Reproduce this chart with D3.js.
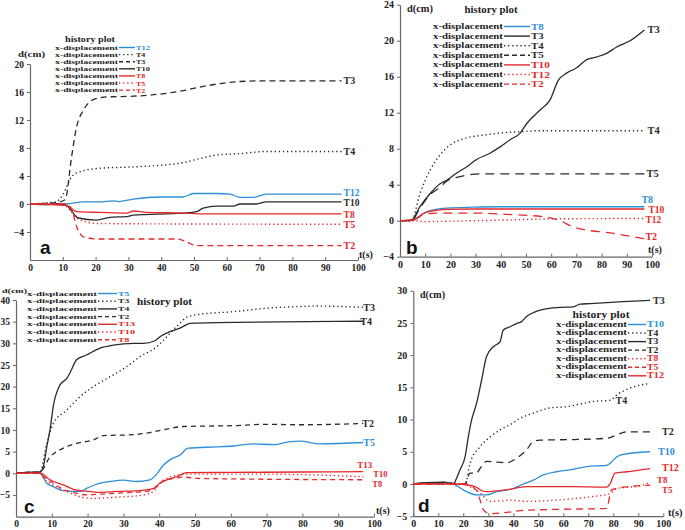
<!DOCTYPE html>
<html><head><meta charset="utf-8">
<script src="https://cdn.jsdelivr.net/npm/d3@7"></script>
<style>
body{margin:0;background:#fff}
text{font-family:"Liberation Serif","Times New Roman",serif;font-weight:bold}
</style>
</head><body><svg id="chart" width="685" height="530"></svg>
<script>
// ---------------- DATA (t in s, d in cm) ----------------
const xTicks = [0,10,20,30,40,50,60,70,80,90,100];

// panel a
const aYTicks = [-4,0,4,8,12,16,20];
const a_T12 = [[0,0],[11,0],[16.3,0.3],[21,0.3],[25.4,0.45],[27,0.35],[31.5,0.7],[39.6,1.0],[46.7,1.0],[49.8,1.5],[56.9,1.5],[61,1.4],[64,0.95],[68,0.95],[72,1.4],[95,1.4]];
const a_T4  = [[0,0],[3,0.1],[6,0.2],[8,0.3],[10.2,1.5],[12.7,3.9],[15.2,4.6],[21.3,5.1],[31.5,5.3],[41.7,5.6],[46.7,5.9],[51.8,6.5],[56.9,7.0],[64,7.2],[72,7.5],[95,7.5]];
const a_T3  = [[0,0],[5,0.1],[8,0.2],[10.7,0.6],[12.7,6.8],[14.2,11],[16.3,13.4],[19.3,14.9],[23.4,15.3],[31.5,15.4],[39.6,15.7],[46.7,16.2],[51.8,16.7],[57.9,17.2],[64,17.5],[72,17.6],[95,17.6]];
const a_T10 = [[0,0],[5,-0.1],[8,0],[11,-0.2],[14.7,-2.0],[20.3,-2.3],[24.4,-1.9],[29.5,-1.8],[31.5,-1.6],[46.7,-1.3],[50.8,-1.1],[52.8,-0.6],[57,-0.3],[62,-0.3],[64,0],[69,0],[72,0.3],[95,0.3]];
const a_T8  = [[0,0],[11,-0.2],[14.2,-1.1],[21.3,-1.2],[29.5,-1.3],[31.5,-1.0],[35.6,-1.2],[46.7,-1.3],[51.8,-1.4],[95,-1.4]];
const a_T5  = [[0,0],[10,0],[12.2,-0.9],[15.2,-2.3],[21.3,-2.8],[95,-2.9]];
const a_T2  = [[0,0],[11,0],[12.7,-0.7],[14.2,-3.2],[16.3,-4.7],[21.3,-5.0],[44.7,-5.0],[47.7,-5.4],[50.8,-5.95],[95,-5.95]];

// panel b
const bYTicks = [-4,0,4,8,12,16,20,24];
const b_T8  = [[0,0],[5,0.05],[7,0.3],[9.3,0.8],[13.2,1.2],[18.5,1.4],[29,1.5],[40,1.55],[97,1.55]];
const b_T3  = [[0,0],[4.6,0.1],[7.9,1.56],[11.9,3.0],[15.9,4.1],[18.5,4.5],[22.5,5.3],[26.5,6.0],[30.4,6.8],[35.7,7.5],[39.7,8.2],[43.7,9.0],[47.6,9.7],[50.3,10.8],[55.6,12.3],[59.5,13.4],[62.8,15.6],[66.1,16.4],[70.1,17.0],[74.1,17.9],[78.1,18.2],[82,18.6],[86,19.3],[91.3,20],[97,21.2]];
const b_T4  = [[0,0],[4.6,0],[7.9,3.0],[11.9,5.6],[15.9,7.3],[19.8,8.4],[25.1,9.1],[33,9.5],[42.3,9.8],[48.9,9.9],[55,10],[97,10]];
const b_T5  = [[0,0],[4.6,0],[7.9,1.4],[11.9,2.9],[15.9,3.7],[18.5,4.4],[23.8,4.9],[31.7,5.2],[97,5.2]];
const b_T10 = [[0,0],[5,0.05],[7,0.35],[9.3,0.8],[13.2,1.1],[18.5,1.25],[29,1.3],[97,1.3]];
const b_T12 = [[0,0],[5,0],[10,-0.1],[20,-0.05],[30,0],[45,0.1],[60,0.2],[97,0.25]];
const b_T2  = [[0,0],[5,0.05],[9.3,0.7],[14.6,0.85],[29,0.85],[42.3,0.7],[58.2,0.4],[63.5,0],[68.8,-0.7],[75.4,-1.1],[82,-1.3],[88.6,-1.6],[97,-2.0]];

// panel c
const cYTicks = [-5,0,5,10,15,20,25,30,35,40];
const c_T5  = [[0,0],[3,0.2],[6.7,0],[8.6,-2.3],[10.4,-3.1],[13.2,-4.0],[17.9,-4.2],[19.7,-3.5],[23.5,-2.3],[26.3,-1.9],[30,-1.6],[33.7,-1.9],[37.4,-1.5],[39.3,-0.2],[41.2,1.9],[43,3.1],[45.8,4.2],[48.1,5.8],[56,6.1],[60.7,6.3],[66.3,6.8],[71.9,6.6],[76.6,7.3],[79.3,7.4],[84.9,6.8],[97,7.1]];
const c_T3  = [[0,0],[3,0.2],[6.7,0.3],[8.6,6.9],[10.4,11.5],[14.2,14.6],[17.9,17.7],[21.6,20],[26.3,22.3],[30.9,24.6],[34.6,26.9],[39.3,29.2],[42.1,31.5],[44.9,33.9],[48.1,36.2],[51.4,36.7],[60.7,37.3],[70,38.1],[79.3,38.5],[83.9,38.6],[97,38.3]];
const c_T4  = [[0,0],[3,0.2],[6.7,0.3],[7.6,1.5],[8.6,6.1],[9.5,10],[10.4,15.4],[12.3,20.4],[14.2,21.9],[15.5,23.9],[16.9,26.2],[19.7,27.3],[23.5,28.9],[27.2,29.6],[32.8,30],[35.6,30],[38.8,30.6],[40.2,31.5],[43,32.7],[45.8,33.5],[48.6,34.6],[56,34.8],[97,35.1]];
const c_T2  = [[0,0],[3,0.2],[6.7,0.3],[9.5,3.8],[12.3,5.4],[16.9,6.9],[21.6,7.7],[24.4,8.7],[32.8,8.9],[37.4,9.4],[42.1,10.2],[46.8,10.8],[60.7,11.0],[70,11.3],[79.3,11.2],[97,11.5]];
const c_T13 = [[0,0],[6.7,0.1],[9.5,-1.5],[13.2,-2.7],[16.9,-3.9],[20.6,-4.2],[23.5,-4.4],[28.1,-4.2],[34.6,-4.0],[38.4,-3.5],[40.2,-2.3],[42.1,-1.5],[44.9,-0.8],[47.7,0.15],[60,0.2],[80,0.3],[97,0.4]];
const c_T10 = [[0,0],[6.7,0],[7.6,-1.0],[11.2,-3.1],[14.2,-4.2],[17.9,-5.4],[21.6,-5.8],[26.3,-5.6],[30.9,-5.4],[35.6,-5.0],[38.4,-4.2],[40.2,-2.3],[42.1,-1.2],[44.9,-0.5],[47.7,-0.2],[70,-0.2],[97,-0.8]];
const c_T8  = [[0,0],[6.7,0],[7.6,-0.7],[10.4,-2.3],[13.2,-3.7],[16.9,-4.6],[19.7,-5.0],[23.5,-4.8],[28.1,-4.6],[32.8,-4.4],[36.5,-4.2],[39.3,-3.1],[41.2,-1.7],[43.9,-1.2],[46.8,-0.9],[51.4,-1.2],[97,-1.5]];

// panel d
const dYTicks = [-5,0,5,10,15,20,25,30];
const d_T10 = [[0,0],[5,0.2],[10,0],[12,0.3],[16,0],[21.3,-1.2],[25.3,-1.7],[29.3,-1.7],[33.3,-1.2],[40,-0.7],[44,0],[48,0.6],[52,1.4],[57.3,1.9],[62.7,2.2],[69.3,2.7],[77.3,2.9],[78.7,3.2],[81.3,4.2],[84,4.6],[94.7,5.0]];
const d_T4  = [[0,0],[12,0.2],[20.7,0],[22.7,3.2],[26.7,5.8],[30.7,7.3],[34.7,8.4],[38.7,9.2],[42.7,10.2],[48,11],[54.7,11.8],[61.3,12],[66.7,12.4],[72,12.8],[78.7,13.0],[81.3,13.8],[86.7,14.9],[94.7,15.6]];
const d_T3  = [[0,0],[5,0.2],[12,0.3],[16,0],[17.3,0.9],[18.7,2.2],[20.7,4.2],[22,7.3],[23.3,9.9],[25.3,12.5],[27.3,16.1],[29.3,19.8],[32,21.3],[34.7,22.1],[36,23.9],[38.7,24.4],[41.3,24.9],[43.3,25.2],[45.3,26],[48,26.6],[52,27.1],[58.7,27.4],[64,27.5],[66.7,27.9],[70.7,28],[84,28.3],[94.7,28.5]];
const d_T2  = [[0,0],[12,0.2],[20.7,0],[22.7,1.7],[25.3,1.7],[26.7,2.4],[29.3,3.5],[37.3,3.3],[41.3,4.0],[45.3,5.3],[48,6.6],[50.7,6.8],[64,6.9],[77.3,7.1],[81.3,7.6],[85.3,8.1],[94.7,8.1]];
const d_T8  = [[0,0],[18.7,0],[26.7,-1.4],[30.7,-2.7],[36,-2.6],[38.7,-2.5],[45.3,-2.7],[57.3,-2.5],[70.7,-2.0],[78.7,-1.5],[81.3,-0.7],[90.7,-0.3],[94.7,0.3]];
const d_T5  = [[0,0],[20.7,0],[25.3,-1.0],[26.7,-2.5],[28,-4.0],[30.7,-4.6],[37.3,-4.4],[44,-4.1],[50.7,-4.0],[64,-3.9],[77.3,-3.8],[79.3,-0.9],[84,-0.5],[94.7,-0.2]];
const d_T12 = [[0,0],[16,0],[22.7,-0.2],[25.3,-0.5],[26.7,-0.9],[29.3,-1.2],[37.3,-0.9],[45.3,-0.4],[64,-0.4],[77.3,-0.5],[78.7,0],[80.7,1.7],[85.3,1.9],[94.7,2.4]];

// ---------------- STYLE ----------------
const BLUE = "#2d8fd8", RED = "#e4292b", BLACK = "#2b2b2b";
const svg = d3.select("#chart");

function dashFor(style, dashLen){
  if (style === "dot") return "1.3 2.8";
  if (style === "dash") return dashLen;
  return null;
}

function drawPanel(p){
  const g = svg.append("g");
  const x = d3.scaleLinear().domain([0,100]).range(p.xr);
  const y = d3.scaleLinear().domain(p.yd).range(p.yr);

  // axes
  const ax = g.append("g").attr("transform",`translate(0,${p.yr[0]})`)
    .call(d3.axisBottom(x).tickValues(xTicks).tickSizeInner(-3).tickSizeOuter(0).tickPadding(5));
  const ay = g.append("g").attr("transform",`translate(${p.xr[0]},0)`)
    .call(d3.axisLeft(y).tickValues(p.yTicks).tickSizeInner(3).tickSizeOuter(0).tickPadding(3));
  [ax,ay].forEach(a=>{
    a.select(".domain").attr("stroke","#666").attr("stroke-width",1.2);
    a.selectAll(".tick line").attr("stroke","#666");
    a.selectAll(".tick text").attr("fill","#222").style("font-size",p.tickFs+"px")
      .style("font-family","'Liberation Serif',serif").style("font-weight","bold");
  });
  ax.selectAll(".tick text").attr("dy","0.6em");

  // series
  const line = d3.line().x(d=>x(d[0])).y(d=>y(d[1])).curve(d3.curveMonotoneX);
  p.series.forEach(s=>{
    g.append("path").datum(s.d).attr("d",line)
      .attr("fill","none").attr("stroke",s.c).attr("stroke-width",s.st==="dot"?1.4:1.3)
      .attr("stroke-dasharray",dashFor(s.st,p.dash));
  });

  // end labels
  p.series.forEach(s=>{
    const lb = p.labels[s.n] || {};
    let pt = s.d[s.d.length-1];
    if (lb.at !== undefined) pt = s.d.find(q=>q[0]>=lb.at);
    g.append("text").attr("x",x(pt[0])+(lb.dx||0)).attr("y",y(pt[1])+(lb.dy||0))
      .attr("dominant-baseline","central").attr("fill",s.c)
      .style("font-size",(lb.fs||p.labFs)+"px").text(s.n);
  });

  // legend (compressed text as in the original figure)
  const L = p.leg;
  g.append("text").attr("x",L.hx).attr("y",L.hy).attr("text-anchor",L.hAnchor||"middle")
    .attr("dominant-baseline","central").attr("fill","#222").style("font-size",L.hfs+"px")
    .attr("textLength",L.hLen).attr("lengthAdjust","spacingAndGlyphs").text("history plot");
  p.series.forEach((s,i)=>{
    const yy = L.y0 + i*L.dy;
    g.append("text").attr("x",L.tx-L.tLen).attr("y",yy).attr("text-anchor","start")
      .attr("dominant-baseline","central").attr("fill","#222").style("font-size",L.fs+"px")
      .attr("textLength",L.tLen).attr("lengthAdjust","spacingAndGlyphs").text("x-displacement");
    g.append("line").attr("x1",L.tx+1).attr("x2",L.lx2).attr("y1",yy+0.5).attr("y2",yy+0.5)
      .attr("stroke",s.c).attr("stroke-width",1.4).attr("stroke-dasharray",dashFor(s.st,L.dash));
    g.append("text").attr("x",L.lx2+1).attr("y",yy+0.5).attr("dominant-baseline","central")
      .attr("fill",s.c).style("font-size",L.lfs+"px")
      .attr("textLength",L.lw*s.n.length/3).attr("lengthAdjust","spacingAndGlyphs").text(s.n);
  });

  // axis titles
  g.append("text").attr("x",p.dcm[0]).attr("y",p.dcm[1]).attr("dominant-baseline","central")
    .attr("fill","#222").style("font-size",p.dcmFs+"px")
    .attr("textLength",p.dcm[2]).attr("lengthAdjust","spacingAndGlyphs").text("d(cm)");
  g.append("text").attr("x",p.ts[0]).attr("y",p.ts[1]).attr("dominant-baseline","central")
    .attr("fill","#222").style("font-size",p.titleFs+"px").text("t(s)");
  // panel letter
  g.append("text").attr("x",p.letter[0]).attr("y",p.letter[1]).attr("dominant-baseline","central")
    .attr("fill","#111").style("font-family","'Liberation Sans',Arial,sans-serif")
    .style("font-size","19px").style("font-weight","bold").text(p.name);
}

const panels = [
 { name:"a", xr:[30,358], yd:[-8,20], yr:[260,64], yTicks:aYTicks, tickFs:9.5, labFs:10, titleFs:10, dcmFs:8.5, dash:"6 4",
   series:[{n:"T12",d:a_T12,c:BLUE,st:"solid"},{n:"T4",d:a_T4,c:BLACK,st:"dot"},{n:"T3",d:a_T3,c:BLACK,st:"dash"},
           {n:"T10",d:a_T10,c:BLACK,st:"solid"},{n:"T8",d:a_T8,c:RED,st:"solid"},{n:"T5",d:a_T5,c:RED,st:"dot"},{n:"T2",d:a_T2,c:RED,st:"dash"}],
   labels:{T12:{dx:2,dy:-1.5,fs:9.5},T4:{dx:2},T3:{dx:2},T10:{dx:2,dy:1.5,fs:9.5},T8:{dx:2,dy:1,fs:9.5},T5:{dx:2},T2:{dx:2}},
   leg:{hx:90,hy:39,hfs:8,hLen:50,y0:47,dy:7.1,tx:118,lx2:135,fs:6.3,tLen:63,lfs:6.5,lw:14,dash:"4 3"},
   dcm:[18,53.5,27], ts:[359,254], letter:[40,247] },
 { name:"b", xr:[400,652], yd:[-4,24], yr:[256.7,4.7], yTicks:bYTicks, tickFs:10, labFs:10.5, titleFs:10, dcmFs:10.5, dash:"9 6",
   series:[{n:"T8",d:b_T8,c:BLUE,st:"solid"},{n:"T3",d:b_T3,c:BLACK,st:"solid"},{n:"T4",d:b_T4,c:BLACK,st:"dot"},
           {n:"T5",d:b_T5,c:BLACK,st:"dash"},{n:"T10",d:b_T10,c:RED,st:"solid"},{n:"T12",d:b_T12,c:RED,st:"dot"},{n:"T2",d:b_T2,c:RED,st:"dash"}],
   labels:{T8:{dx:-3,dy:-7.5,fs:10},T3:{dx:3},T4:{dx:3},T5:{dx:2},T10:{dx:4,dy:0.5,fs:9.5},T12:{dx:1,dy:2,fs:9.5},T2:{dx:1,dy:-2,fs:10}},
   leg:{hx:491,hy:10,hfs:9.5,hLen:53,y0:26,dy:9.6,tx:503,lx2:530,fs:8.5,tLen:70,lfs:8.5,lw:19,dash:"5 3"},
   dcm:[407,8,26], ts:[648,249], letter:[406,247] },
 { name:"c", xr:[16,374], yd:[-10,40], yr:[516.6,300], yTicks:cYTicks, tickFs:9.5, labFs:10, titleFs:10, dcmFs:7, dash:"5 4",
   series:[{n:"T5",d:c_T5,c:BLUE,st:"solid"},{n:"T3",d:c_T3,c:BLACK,st:"dot"},{n:"T4",d:c_T4,c:BLACK,st:"solid"},
           {n:"T2",d:c_T2,c:BLACK,st:"dash"},{n:"T13",d:c_T13,c:RED,st:"solid"},{n:"T10",d:c_T10,c:RED,st:"dot"},{n:"T8",d:c_T8,c:RED,st:"dash"}],
   labels:{T5:{dx:0},T3:{dx:0},T4:{dx:-3},T2:{dx:-1},T13:{dx:-6,dy:-6.5,fs:9},T10:{dx:10,dy:-3,fs:8.5},T8:{dx:9,dy:4,fs:8.5}},
   leg:{hx:137,hy:302,hAnchor:"start",hfs:9.5,hLen:55,y0:293,dy:7.7,tx:97,lx2:117,fs:6.8,tLen:70,lfs:7,lw:17,dash:"4 3"},
   dcm:[2,290.5,25], ts:[376,510], letter:[24,506] },
 { name:"d", xr:[413.3,663.3], yd:[-5,30], yr:[516.2,290.7], yTicks:dYTicks, tickFs:10, labFs:10, titleFs:10.5, dcmFs:10, dash:"7 5",
   series:[{n:"T10",d:d_T10,c:BLUE,st:"solid"},{n:"T4",d:d_T4,c:BLACK,st:"dot"},{n:"T3",d:d_T3,c:BLACK,st:"solid"},
           {n:"T2",d:d_T2,c:BLACK,st:"dash"},{n:"T8",d:d_T8,c:RED,st:"dot"},{n:"T5",d:d_T5,c:RED,st:"dash"},{n:"T12",d:d_T12,c:RED,st:"solid"}],
   labels:{T10:{dx:8},T4:{at:81,dx:-1,dy:5},T3:{dx:3},T2:{dx:12},T8:{dx:7,dy:-2,fs:9},T5:{dx:12,dy:5,fs:9},T12:{dx:12,dy:-1}},
   leg:{hx:601,hy:315,hfs:9.5,hLen:57,y0:324,dy:8.55,tx:627,lx2:646,fs:7.5,tLen:71,lfs:7.5,lw:17,dash:"4 3"},
   dcm:[420,294,25], ts:[668,512], letter:[418,505] }
];
panels.forEach(drawPanel);
</script>
</body></html>
